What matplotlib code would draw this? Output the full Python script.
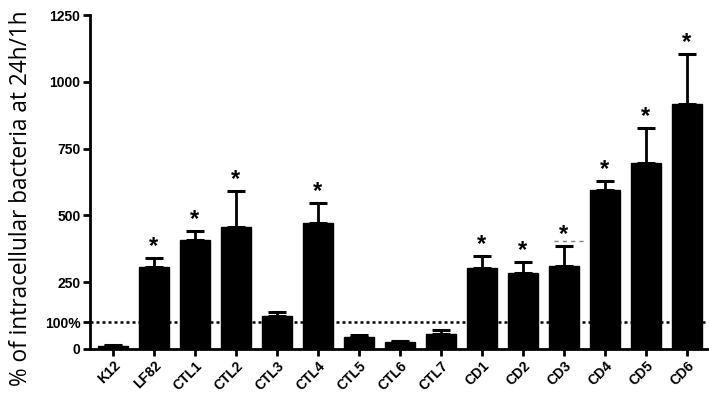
import numpy as np
import matplotlib
matplotlib.use('Agg')
import matplotlib.pyplot as plt

strains = ['K12', 'LF82', 'CTL1', 'CTL2', 'CTL3', 'CTL4', 'CTL5', 'CTL6', 'CTL7',
           'CD1', 'CD2', 'CD3', 'CD4', 'CD5', 'CD6']
means = [12, 307, 407, 455, 124, 470, 45, 26, 56, 303, 283, 311, 597, 698, 918]
upper_err = [4, 33, 33, 135, 14, 78, 7, 4, 15, 44, 42, 73, 30, 130, 186]
signif = [False, True, True, True, False, True, False, False, False,
          True, True, True, True, True, True]
yticks = [0, 100, 250, 500, 750, 1000, 1250]
ytick_labels = ['0', '100%', '250', '500', '750', '1000', '1250']

fig = plt.figure(figsize=(7.09, 3.97), dpi=100)
ax = fig.add_axes([0.127, 0.121, 0.870, 0.841])

x = np.arange(len(strains))
ax.bar(x, means, width=0.73, color='black', edgecolor='black', zorder=3)
ax.errorbar(x, means, yerr=[np.zeros(len(means)), upper_err], fmt='none',
            ecolor='black', elinewidth=2, capsize=6.5, capthick=2.2, zorder=3)

# 100% reference line
ax.axhline(100, color='black', linestyle=(0, (1.2, 1.2)), linewidth=1.8, zorder=2)

# stars above the error bars
for xi, m, e, s in zip(x, means, upper_err, signif):
    if s:
        ax.annotate('*', (xi, m + e), xytext=(0, 0), textcoords='offset points',
                    ha='center', va='bottom', fontsize=17, fontweight='bold',
                    family='Liberation Sans')

# small dashed mark near CD3 star (as in the original figure)
ax.plot([10.75, 11.55], [404, 404], color='gray', linestyle=(0, (3, 3)), linewidth=1)

ax.set_xlim(-0.56, 14.49)
ax.set_ylim(0, 1250)
ax.set_yticks(yticks)
ax.set_yticklabels(ytick_labels)
ax.set_xticks(x)
ax.set_xticklabels(strains, rotation=45, ha='right', rotation_mode='anchor')

for lab in ax.get_xticklabels() + ax.get_yticklabels():
    lab.set_fontweight('bold')
    lab.set_fontsize(10)
    lab.set_family('Liberation Sans')

ax.spines['top'].set_visible(False)
ax.spines['right'].set_visible(False)
ax.spines['left'].set_linewidth(2)
ax.spines['bottom'].set_linewidth(2)
ax.tick_params(axis='both', width=2, length=5, direction='out', pad=2)

fig.text(0.030, 0.5, '% of intracellular bacteria at 24h/1h', rotation=90,
         ha='center', va='center', fontsize=16.3, family='Open Sans')

plt.savefig('out.png', dpi=100)
